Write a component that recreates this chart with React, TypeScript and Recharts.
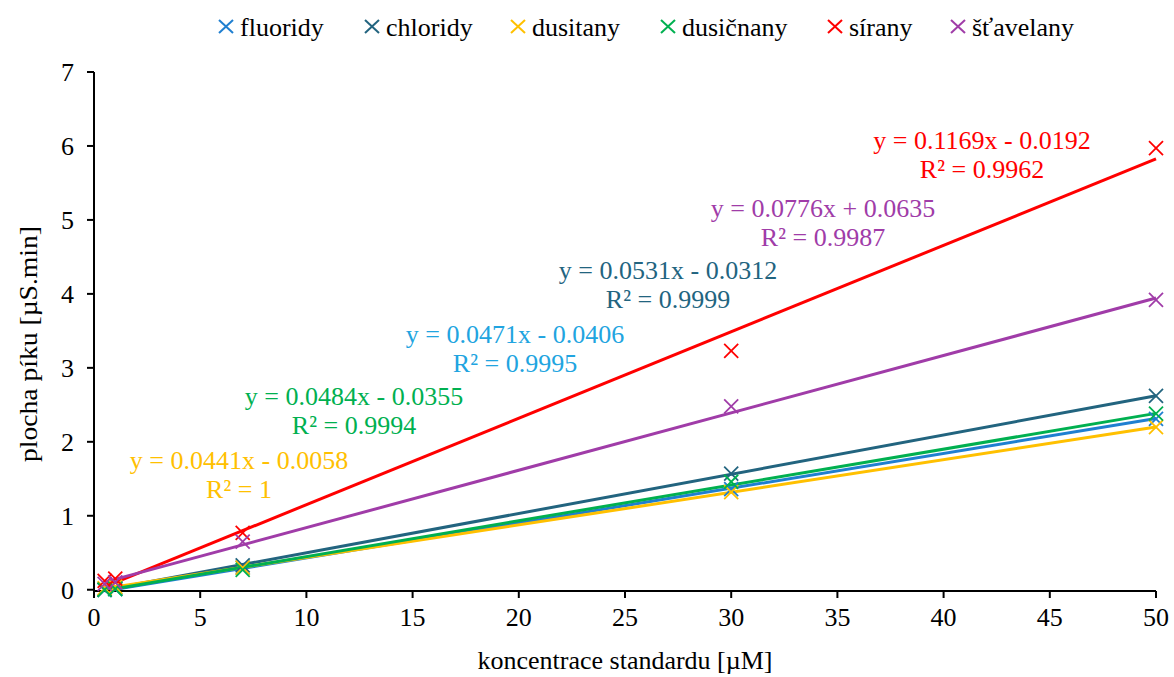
import React from "react";
import { ComposedChart, Scatter, Line, XAxis, YAxis } from "recharts";

const concentrations = [0.5, 1, 7, 30, 50];
const fluoridy = [0.0, 0.01, 0.3, 1.36, 2.31];
const chloridy = [0.0, 0.03, 0.33, 1.57, 2.62];
const dusitany = [0.02, 0.04, 0.3, 1.32, 2.2];
const dusicnany = [0.0, 0.01, 0.27, 1.46, 2.38];
const sirany = [0.12, 0.15, 0.77, 3.23, 5.97];
const stavelany = [0.08, 0.1, 0.65, 2.48, 3.92];

const seriesNames = ["fluoridy", "chloridy", "dusitany", "dusičnany", "sírany", "šťavelany"];
const seriesColors = ["#1F7FD0", "#22647F", "#FFC000", "#00B050", "#FF0000", "#A03CA8"];
const labelColors = ["#21A4E0", "#22647F", "#FFC000", "#00B050", "#FF0000", "#A03CA8"];
const slopes = [0.0471, 0.0531, 0.0441, 0.0484, 0.1169, 0.0776];
const intercepts = [-0.0406, -0.0312, -0.0058, -0.0355, -0.0192, 0.0635];
const equations = [
  "y = 0.0471x - 0.0406",
  "y = 0.0531x - 0.0312",
  "y = 0.0441x - 0.0058",
  "y = 0.0484x - 0.0355",
  "y = 0.1169x - 0.0192",
  "y = 0.0776x + 0.0635",
];
const rSquared = ["R² = 0.9995", "R² = 0.9999", "R² = 1", "R² = 0.9994", "R² = 0.9962", "R² = 0.9987"];
const xTicks = [0, 5, 10, 15, 20, 25, 30, 35, 40, 45, 50];
const yTicks = [0, 1, 2, 3, 4, 5, 6, 7];

const allValues = [fluoridy, chloridy, dusitany, dusicnany, sirany, stavelany];

const FONT = "'Liberation Serif', 'Times New Roman', serif";
const FS = 26;
const W = 1174;
const H = 677;
const PLOT_LEFT = 94;
const PLOT_RIGHT = 1156;
const PLOT_TOP = 72;
const PLOT_BOTTOM = 591;

// layout of the equation labels (pixel centre x, baseline y of first line)
const labelPosX = [515, 668, 239, 354, 982, 823];
const labelPosY = [343, 279, 469, 405, 149, 217];
// legend layout (marker centre x)
const legendX = [226, 372, 518, 668, 835, 958];

const makeCross = (color: string) => (props: any) => {
  const { cx, cy } = props;
  if (cx == null || cy == null) return <g />;
  const r = 7;
  return (
    <g>
      <line x1={cx - r} y1={cy - r} x2={cx + r} y2={cy + r} stroke={color} strokeWidth={1.8} />
      <line x1={cx - r} y1={cy + r} x2={cx + r} y2={cy - r} stroke={color} strokeWidth={1.8} />
    </g>
  );
};

export default function App() {
  const scatterData = allValues.map((vals) => concentrations.map((x, i) => ({ x, y: vals[i] })));
  const xMin = concentrations[0];
  const xMax = concentrations[concentrations.length - 1];
  const trendData = slopes.map((s, i) => [
    { x: xMin, y: s * xMin + intercepts[i] },
    { x: xMax, y: s * xMax + intercepts[i] },
  ]);

  return (
    <div style={{ position: "absolute", left: 0, top: 0, width: W, height: H, background: "#fff", fontFamily: FONT }}>
      <ComposedChart
        width={W}
        height={H}
        margin={{ top: PLOT_TOP, right: W - PLOT_RIGHT, bottom: 0, left: 0 }}
      >
        <XAxis
          type="number"
          dataKey="x"
          domain={[0, 50]}
          ticks={xTicks}
          height={H - PLOT_BOTTOM}
          stroke="#000"
          strokeWidth={2}
          tickSize={7}
          tickMargin={10}
          tick={{ fill: "#000", fontSize: FS, fontFamily: FONT }}
        />
        <YAxis
          type="number"
          dataKey="y"
          domain={[0, 7]}
          ticks={yTicks}
          width={PLOT_LEFT}
          stroke="#000"
          strokeWidth={2}
          tickSize={7}
          tickMargin={13}
          tick={{ fill: "#000", fontSize: FS, fontFamily: FONT }}
        />
        {scatterData.map((d, i) => (
          <Scatter
            key={"s" + i}
            name={seriesNames[i]}
            data={d}
            dataKey="y"
            shape={makeCross(seriesColors[i])}
            isAnimationActive={false}
          />
        ))}
        {trendData.map((d, i) => (
          <Line
            key={"l" + i}
            data={d}
            dataKey="y"
            type="linear"
            stroke={seriesColors[i]}
            strokeWidth={3}
            dot={false}
            activeDot={false}
            legendType="none"
            isAnimationActive={false}
          />
        ))}
      </ComposedChart>
      <svg width={W} height={H} style={{ position: "absolute", left: 0, top: 0, pointerEvents: "none" }}>
        {equations.map((eq, i) => (
          <g key={"t" + i} fill={labelColors[i]} fontFamily={FONT} fontSize={FS} textAnchor="middle">
            <text x={labelPosX[i]} y={labelPosY[i]}>{eq}</text>
            <text x={labelPosX[i]} y={labelPosY[i] + 29}>{rSquared[i]}</text>
          </g>
        ))}
        <text
          x={31}
          y={344}
          transform={`rotate(-90 31 344)`}
          textAnchor="middle"
          dominantBaseline="middle"
          fontFamily={FONT}
          fontSize={FS}
          textLength={236}
          lengthAdjust="spacingAndGlyphs"
          fill="#000"
        >
          plocha píku [µS.min]
        </text>
        <text x={625} y={669} textAnchor="middle" fontFamily={FONT} fontSize={FS} fill="#000">
          koncentrace standardu [µM]
        </text>
        {seriesNames.map((n, i) => (
          <g key={"lg" + i}>
            <line x1={legendX[i] - 7} y1={20} x2={legendX[i] + 7} y2={33} stroke={seriesColors[i]} strokeWidth={2} />
            <line x1={legendX[i] - 7} y1={33} x2={legendX[i] + 7} y2={20} stroke={seriesColors[i]} strokeWidth={2} />
            <text x={legendX[i] + 14} y={36} fontFamily={FONT} fontSize={FS} fill="#000">
              {n}
            </text>
          </g>
        ))}
      </svg>
    </div>
  );
}
